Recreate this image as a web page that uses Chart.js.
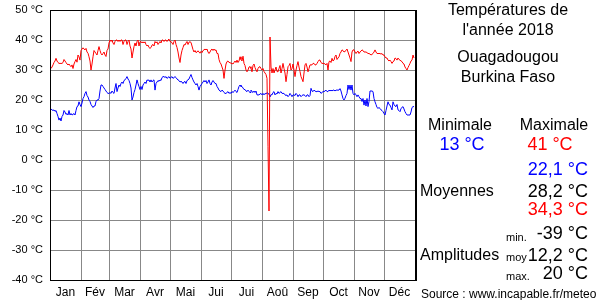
<!DOCTYPE html>
<html>
<head>
<meta charset="utf-8">
<script src="https://cdn.jsdelivr.net/npm/chart.js@4"></script>
<style>
  body { margin: 0; background: #fff; }
  #wrap { position: relative; width: 600px; height: 300px; font-family: "Liberation Sans", Arial, sans-serif; }
  #chart { position: absolute; left: 0; top: 0; }
  .t { position: absolute; white-space: nowrap; line-height: 1; color: #000; }
  .c { transform: translate(-50%, -50%); }
  .l { transform: translate(0, -50%); }
  .r { transform: translate(-100%, -50%); }
  .big { font-size: 18px; }
  .mid { font-size: 16px; }
  .sm { font-size: 11px; }
</style>
</head>
<body>
<div id="wrap">
  <canvas id="chart" width="600" height="300"></canvas>
  <div class="t c mid" style="left:508px;top:10px">Températures de</div>
  <div class="t c mid" style="left:508px;top:30px">l'année 2018</div>
  <div class="t c mid" style="left:508px;top:57px">Ouagadougou</div>
  <div class="t c mid" style="left:508px;top:77px">Burkina Faso</div>
  <div class="t c mid" style="left:460px;top:125px">Minimale</div>
  <div class="t c mid" style="left:554px;top:125px">Maximale</div>
  <div class="t c big" style="left:462px;top:144px;color:#0000ff">13 °C</div>
  <div class="t c big" style="left:550px;top:144px;color:#ff0000">41 °C</div>
  <div class="t r big" style="left:588px;top:169px;color:#0000ff">22,1 °C</div>
  <div class="t l mid" style="left:420px;top:191px">Moyennes</div>
  <div class="t r big" style="left:588px;top:191px">28,2 °C</div>
  <div class="t r big" style="left:588px;top:209px;color:#ff0000">34,3 °C</div>
  <div class="t l sm" style="left:506px;top:237px">min.</div>
  <div class="t r big" style="left:588px;top:233px">-39 °C</div>
  <div class="t l mid" style="left:420px;top:255px">Amplitudes</div>
  <div class="t l sm" style="left:506px;top:257px">moy</div>
  <div class="t r big" style="left:588px;top:255px">12,2 °C</div>
  <div class="t l sm" style="left:506px;top:276px">max.</div>
  <div class="t r big" style="left:588px;top:273px">20 °C</div>
  <div class="t l" style="left:421px;top:294px;font-size:12px">Source : www.incapable.fr/meteo</div>
</div>
<script>
// Month names and lengths (2018)
const months = ['Jan', 'Fév', 'Mar', 'Avr', 'Mai', 'Jui', 'Jui', 'Aoû', 'Sep', 'Oct', 'Nov', 'Déc'];
const monthDays = [31, 28, 31, 30, 31, 30, 31, 31, 30, 31, 30, 31];
const yTicks = [-40, -30, -20, -10, 0, 10, 20, 30, 40, 50];

// Daily maxima (°C), 365 days
const tMax = [
  30.2, 30.5, 31, 31.7, 32.5, 33, 33.9, 33, 32.5, 32.2,
  32.2, 32.2, 32.2, 32.5, 33.5, 33, 32.5, 32, 31.7, 32,
  31.5, 31.1, 31.7, 30.5, 32, 32.8, 33.5, 32.6, 35, 34.4,
  33.3, 36.5, 37, 37.4, 37, 36.7, 37.2, 36, 35.6, 34.4,
  33, 30, 32, 34.4, 36.5, 36, 35.5, 35, 36.5, 37.8,
  36.5, 35.5, 35, 35.5, 36, 35, 34.5, 36.5, 37, 39,
  40, 39.5, 40, 39, 38.5, 39.5, 40, 40, 39.5, 40,
  39.5, 40, 40, 38.5, 39.5, 40, 40, 38.5, 39.5, 40,
  38, 37, 34, 36, 37.8, 39, 38, 39.5, 40, 38,
  39.4, 39.5, 39, 39.4, 39, 39.4, 38.5, 38, 38.3, 37.5,
  37.2, 37.5, 38.3, 38.5, 38, 39.5, 39, 39.4, 38.5, 39,
  39.5, 39, 40, 40, 39.5, 40, 40, 39.5, 40, 40.3,
  39.5, 39.5, 39, 38.5, 39.5, 40, 38.5, 37.5, 36, 34,
  32.5, 35, 36.5, 37.5, 38.5, 38.3, 39, 39.5, 38.5, 39.3,
  39.4, 39.2, 38, 36.8, 36, 36.5, 35.8, 36, 36.4, 36,
  35.6, 36.2, 35.8, 36.5, 36.7, 37, 36.7, 37, 36, 35.5,
  36, 36.7, 37, 36.5, 37, 36.5, 36.7, 35.5, 35.5, 33.5,
  32.5, 32, 31, 30, 27.2, 30, 32, 32.8, 33, 32.5,
  32.5, 32.2, 32.2, 32, 32.5, 33, 32.5, 33.3, 32.5, 33,
  34.4, 33.5, 33, 34.6, 32.2, 31.5, 30, 29.4, 30, 31,
  31.1, 30.5, 29.4, 31.5, 32, 30.8, 30, 29.4, 30.5, 31,
  31.1, 30.5, 30, 30.5, 29.5, 29, 28.5, 27.2, 4.4, -17,
  41, 31, 29, 30.5, 29, 30, 31, 29.5, 29.4, 30.5,
  31.5, 29, 30.5, 32.2, 30.5, 29, 26.1, 28.5, 31.1, 31.5,
  32.2, 30, 30.5, 32, 30, 27.8, 30, 31.5, 32.8, 31,
  29.5, 27.8, 27, 26.1, 29, 31.7, 32.2, 31, 29.4, 30.5,
  31.7, 31.7, 31.7, 32.2, 32.2, 31.7, 31.7, 32.2, 32.8, 33.3,
  33.3, 32.5, 32.2, 32.2, 32.2, 32, 31.7, 32.2, 30, 32.8,
  33, 32.5, 33.9, 33, 33.3, 34.5, 35, 33.5, 34, 34.4,
  35.5, 36, 36.7, 36.5, 36, 36.2, 36.5, 37, 36, 35,
  34, 32.8, 36, 36.7, 36.7, 36, 35.5, 36, 36.3, 35.5,
  36, 36.3, 36.7, 36.5, 36, 36, 36, 35.8, 35.5, 35.5,
  35.3, 35, 35.2, 35.5, 36, 36.7, 36, 35.5, 35.5, 35.5,
  35.5, 35.3, 35.5, 35, 35, 34.4, 34, 34, 33.3, 33,
  33.3, 32.8, 32.2, 32.8, 33, 34, 33.8, 33.3, 34, 33.5,
  33.3, 33, 32.8, 32.2, 32, 31, 30.5, 30, 30.8, 31.5,
  32.2, 33, 33.3, 35, 34
];

// Daily minima (°C), 365 days
const tMin = [
  17.2, 17, 16.7, 16.5, 16.7, 16.2, 16.5, 15.5, 14.5, 13.3,
  14, 13, 14.5, 15, 16.5, 16, 15.2, 15.5, 15, 16.5,
  15, 15.5, 15, 15.2, 15.5, 15, 16.5, 17.8, 18, 19.4,
  18.5, 17.8, 19, 20.5, 21.1, 22.2, 22.8, 21.5, 21, 20,
  19.5, 18.5, 18, 17.5, 18, 18, 19.5, 20, 20, 20.5,
  23, 25, 25, 24.5, 24, 23.5, 23, 22.5, 22.2, 22.2,
  22.5, 22.2, 23, 22.5, 22.2, 24, 25.5, 22.8, 24, 25,
  24.5, 25.5, 26, 25.5, 26.5, 26.7, 27.2, 27.8, 27, 26.5,
  25.5, 24, 20, 21, 22.5, 23.5, 25, 26.7, 25.5, 24.5,
  23.5, 24.5, 23.5, 25, 25.5, 26, 25.5, 26.7, 26.5, 26.7,
  26, 26.7, 26, 26.5, 26.7, 23.3, 25.5, 26, 26.5, 26.2,
  26.7, 26.5, 27.5, 27.8, 27.8, 27.5, 27.8, 27.2, 27.5, 27.8,
  27.2, 27.5, 27.8, 27.2, 27.5, 27.8, 27.5, 27, 26.7, 26.5,
  26, 26.2, 26, 25.5, 26, 26.2, 25.5, 26.5, 26.7, 27,
  27.8, 28.5, 27.5, 26.7, 26, 25.5, 25, 25.5, 24.5, 23.3,
  24.5, 25, 25.5, 26, 26.5, 26, 26.5, 25.5, 26, 26.7,
  25.5, 25, 26, 26.5, 26, 25.5, 25.5, 24.5, 24, 23.3,
  23, 22.8, 23.3, 23, 22.5, 22.2, 22.2, 22.5, 22.8, 22.2,
  22.5, 22.2, 22.8, 22.5, 22.8, 23.3, 22.8, 22.5, 23.5, 24.5,
  25, 24.5, 24.5, 24, 23.5, 23.5, 23, 22.8, 23.3, 22.8,
  22.5, 23.3, 22.8, 22.5, 23, 22.5, 23, 21.7, 21.7, 21.7,
  22, 22.2, 21.7, 22.2, 21.7, 22.2, 22, 22.5, 22.2, 22,
  21, 21.8, 21.7, 22.5, 22.8, 21.7, 22.2, 22, 22.8, 22.2,
  22.5, 22.8, 22.2, 22.2, 22.2, 21.7, 21.5, 21.7, 21.1, 21.5,
  22.2, 21.7, 21.1, 21.7, 21.7, 21.5, 22.2, 21.8, 21.1, 21.7,
  21.7, 21.1, 21.5, 21.7, 21.7, 21.5, 21.1, 21.7, 21.7, 21.1,
  21.5, 23.9, 23, 22.8, 23.3, 23, 22.8, 22.8, 23, 22.8,
  22.8, 22.2, 22.5, 22.8, 22.8, 23, 23.3, 22.8, 22.8, 23.3,
  23, 23.3, 23, 23.3, 23.3, 23, 23.3, 23.3, 23.3, 23.3,
  23.8, 23, 21.7, 20.5, 20, 20.6, 21.5, 22.2, 25, 23.5,
  25, 23.3, 25, 22.2, 21.7, 22.2, 21.7, 21.1, 21.7, 21.1,
  20.5, 20.5, 19.5, 20.5, 18.3, 20, 18, 20.5, 17.8, 19.5,
  23, 23, 23, 22.8, 20.5, 19.4, 18.5, 17.5, 17.2, 17.5,
  17.2, 16.7, 16.5, 16.1, 15.5, 15, 16.5, 18, 19.4, 18.5,
  18.3, 17.5, 16.7, 19.4, 18.5, 18, 17.8, 18.5, 16.7, 16.5,
  16.1, 17.2, 17.5, 17.8, 17, 16.1, 15.5, 15, 15, 15,
  15, 16, 17.5, 17.8, 17.8
];

// Month boundaries and centres on the day axis
const monthStarts = [0];
monthDays.forEach(function(n, i) { monthStarts.push(monthStarts[i] + n); });
const monthMids = monthDays.map(function(n, i) { return monthStarts[i] + n / 2; });

function toPoints(arr) {
    return arr.map(function(v, i) { return { x: i, y: v }; });
}

// Black frame round the plot area
const framePlugin = {
    id: 'frame',
    afterDraw: function(chart) {
        const a = chart.chartArea;
        const ctx = chart.ctx;
        ctx.save();
        ctx.strokeStyle = '#000';
        ctx.lineWidth = 1;
        ctx.strokeRect(a.left + 0.5, a.top + 0.5, a.right - a.left, a.bottom - a.top);
        ctx.lineWidth = 2;
        ctx.beginPath();
        ctx.moveTo(a.right + 1, a.top);
        ctx.lineTo(a.right + 1, a.bottom + 1);
        ctx.stroke();
        ctx.restore();
    }
};

Chart.defaults.font.family = '"Liberation Sans", Arial, sans-serif';
Chart.defaults.font.size = 12;
Chart.defaults.color = '#000';

new Chart(document.getElementById('chart').getContext('2d'), {
    type: 'line',
    data: {
        datasets: [
            {
                label: 'Maximale',
                data: toPoints(tMax),
                borderColor: '#ff0000',
                borderWidth: 1,
                pointRadius: 0,
                tension: 0
            },
            {
                label: 'Minimale',
                data: toPoints(tMin),
                borderColor: '#0000ff',
                borderWidth: 1,
                pointRadius: 0,
                tension: 0
            }
        ]
    },
    options: {
        responsive: false,
        animation: false,
        layout: { padding: { top: 10, right: 185, left: 0, bottom: 0 } },
        plugins: {
            legend: { display: false },
            tooltip: { enabled: false }
        },
        scales: {
            x: {
                type: 'linear',
                min: 0,
                max: 365,
                afterBuildTicks: function(scale) {
                    scale.ticks = monthStarts.concat(monthMids).map(function(v) { return { value: v }; });
                },
                afterFit: function(scale) {
                    scale.height = 20;
                    scale.paddingLeft = 0;
                    scale.paddingRight = 0;
                },
                ticks: {
                    autoSkip: false,
                    maxRotation: 0,
                    padding: 5,
                    callback: function(value) {
                        const i = monthMids.indexOf(value);
                        return i >= 0 ? months[i] : '';
                    }
                },
                grid: {
                    drawTicks: false,
                    color: function(ctx) {
                        return ctx.tick && monthStarts.indexOf(ctx.tick.value) >= 0 ? '#888' : 'rgba(0,0,0,0)';
                    }
                },
                border: { display: false }
            },
            y: {
                min: -40,
                max: 50,
                afterBuildTicks: function(scale) {
                    scale.ticks = yTicks.map(function(v) { return { value: v }; });
                },
                afterFit: function(scale) {
                    scale.width = 50;
                    scale.paddingTop = 0;
                    scale.paddingBottom = 0;
                },
                ticks: {
                    padding: 7,
                    font: { size: 11 },
                    callback: function(value) { return value + ' °C'; }
                },
                grid: { drawTicks: false, color: '#888' },
                border: { display: false }
            }
        }
    },
    plugins: [framePlugin]
});
</script>
</body>
</html>
